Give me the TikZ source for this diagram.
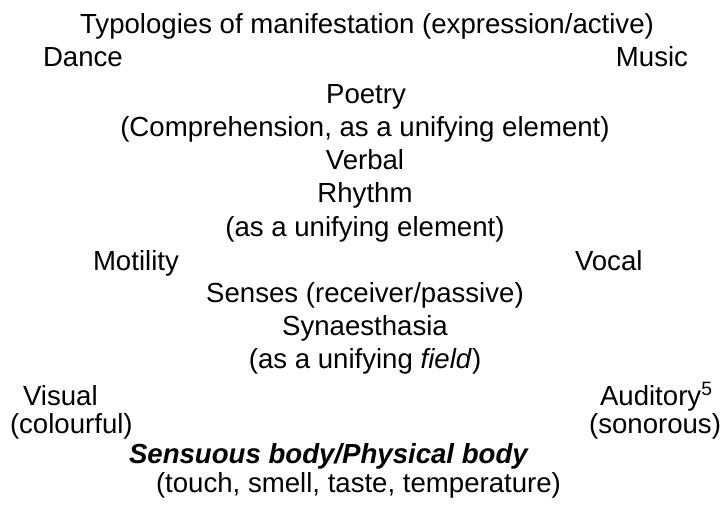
\documentclass[tikz,border=0pt]{standalone}
\usepackage{fontspec}
\setmainfont{Liberation Sans}
\begin{document}
\begin{tikzpicture}[x=1pt,y=-1pt,
  lbl/.style={inner sep=0pt,outer sep=0pt,anchor=base,font=\fontsize{27.6}{31}\selectfont},
  lblL/.style={lbl,anchor=base west},
  lblR/.style={lbl,anchor=base east}]
\useasboundingbox (0,0) rectangle (727,512);
\node[lbl] (title) at (367,33) {Typologies of manifestation (expression/active)};
\node[lblL] (dance) at (43,66) {Dance};
\node[lblR] (music) at (688,66) {Music};
\node[lbl] (poetry) at (366,103) {Poetry};
\node[lbl] (comp) at (365,136) {(Comprehension, as a unifying element)};
\node[lbl] (verbal) at (365,169) {Verbal};
\node[lbl] (rhythm) at (365,202) {Rhythm};
\node[lbl] (unif) at (365,236) {(as a unifying element)};
\node[lblL] (motility) at (93,270) {Motility};
\node[lblL] (vocal) at (575,270) {Vocal};
\node[lbl] (senses) at (365,302) {Senses (receiver/passive)};
\node[lbl] (synaes) at (365,335) {Synaesthasia};
\node[lbl] (field) at (365,368) {(as a unifying \textit{field})};
\node[lblL] (visual) at (23,405) {Visual};
\node[lblL] (auditory) at (600,405) {Auditory\textsuperscript{5}};
\node[lblL] (colourful) at (10,433) {(colourful)};
\node[lblR] (sonorous) at (721,433) {(sonorous)};
\node[lblL] (sensuous) at (129,463) {\textbf{\textit{Sensuous body/Physical body}}};
\node[lblL] (touch) at (156,492) {(touch, smell, taste, temperature)};
\end{tikzpicture}
\end{document}
